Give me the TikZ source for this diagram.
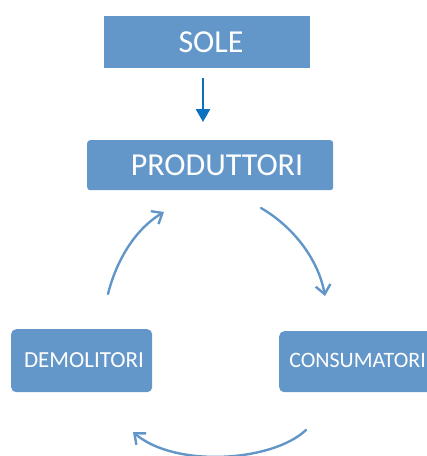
\documentclass[tikz,border=0pt]{standalone}
\usepackage{fontspec}
\setmainfont{Carlito}
\usetikzlibrary{arrows.meta}
\definecolor{boxblue}{RGB}{99,151,201}
\definecolor{arcblue}{RGB}{98,150,200}
\definecolor{darkblue}{RGB}{10,112,192}
\tikzset{
  box/.style={fill=boxblue, draw=none, text=white, inner sep=0pt, anchor=north west},
  arc/.style={draw=arcblue, line width=2.4pt, line cap=round, -{Straight Barb[length=9pt,width=15pt,line width=2.4pt]}},
}
\begin{document}
\begin{tikzpicture}[x=1pt,y=-1pt]
\useasboundingbox (0,0) rectangle (427,456);
\clip (0,0) rectangle (427,456);
% boxes
\node[box, minimum width=206pt, minimum height=52pt] (sole) at (104,16) {};
\node[text=white, font=\fontsize{32}{36}\selectfont] (soletxt) at (211,42) {SOLE};
\node[box, rounded corners=3pt, minimum width=246pt, minimum height=50pt] (prod) at (87,140) {};
\node[text=white, font=\fontsize{32}{36}\selectfont] (prodtxt) at (217,165) {PRODUTTORI};
\node[box, rounded corners=5pt, minimum width=141pt, minimum height=63pt] (demo) at (11,329) {};
\node[text=white, font=\fontsize{23}{26}\selectfont] (demotxt) at (84,360) {DEMOLITORI};
\node[box, rounded corners=5pt, minimum width=170pt, minimum height=61pt] (cons) at (279,331) {};
\node[text=white, font=\fontsize{22}{26}\selectfont, anchor=east, inner sep=0pt] (constxt) at (426,360) {CONSUMATORI};
% sun arrow
\coordinate (s1) at (203,78);
\coordinate (s2) at (203,122);
\draw[darkblue, line width=2.5pt, -{Triangle[length=13pt,width=14pt]}] (s1) -- (s2);
% cycle arcs
\coordinate (a1s) at (108,294);
\coordinate (a1e) at (164,212);
\draw[arc] (a1s) .. controls (116,262) and (134,230) .. (a1e);
\coordinate (a2s) at (261,208);
\coordinate (a2e) at (325,296);
\draw[arc] (a2s) .. controls (292,226) and (318,258) .. (a2e);
\coordinate (a3s) at (306,430);
\coordinate (a3e) at (133,432);
\draw[arc] (a3s) .. controls (272,462) and (175,468) .. (a3e);
\end{tikzpicture}
\end{document}
